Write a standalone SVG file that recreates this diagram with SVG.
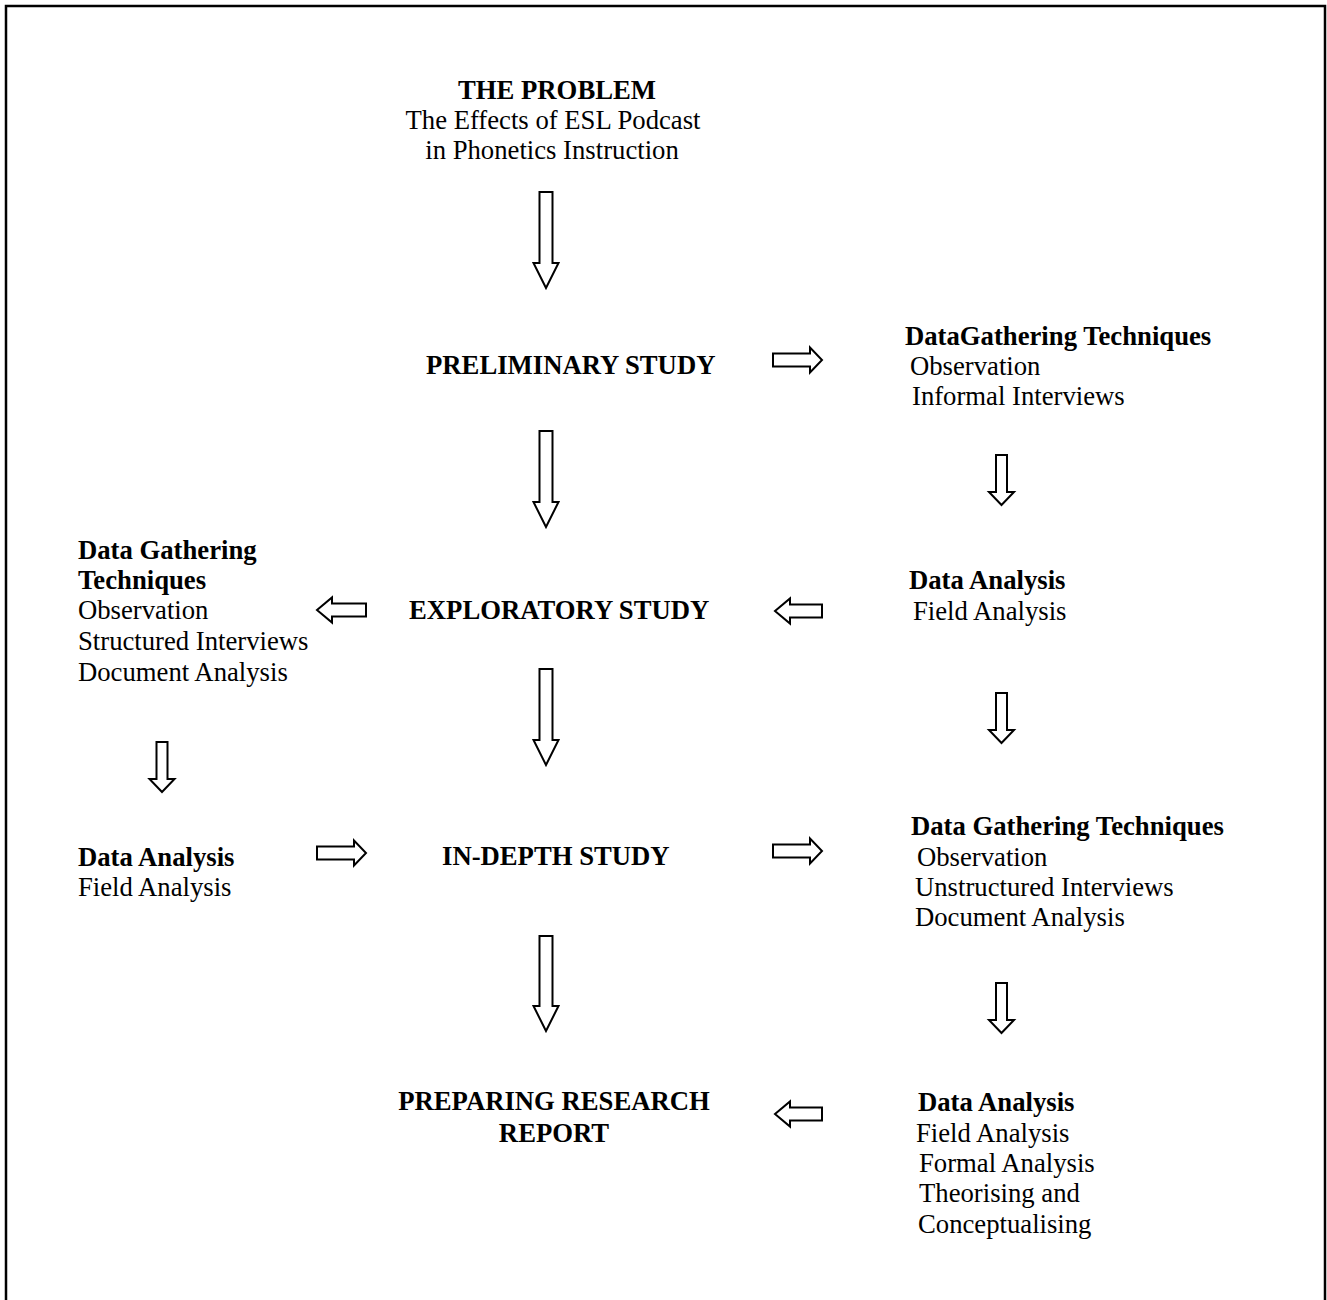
<svg xmlns="http://www.w3.org/2000/svg" width="1327" height="1300" viewBox="0 0 1327 1300">
<style>
text{font-family:"Liberation Serif","Times New Roman",serif;font-size:26.7px;fill:#000}
.b{font-weight:bold}
.arr{fill:#fff;stroke:#000;stroke-width:2;stroke-linejoin:miter}
</style>
<rect width="1327" height="1300" fill="#fff"/>
<path d="M6,1300 V6 H1325 V1300" fill="none" stroke="#000" stroke-width="2.5"/>
<g id="problem">
<text class="b" x="557" y="99" text-anchor="middle">THE PROBLEM</text>
<text x="553" y="129" text-anchor="middle">The Effects of ESL Podcast</text>
<text x="552" y="159" text-anchor="middle">in Phonetics Instruction</text>
</g>
<g id="preliminary"><text class="b" x="426" y="374">PRELIMINARY STUDY</text></g>
<g id="dgt1">
<text class="b" x="905" y="345">DataGathering Techniques</text>
<text x="910" y="375">Observation</text>
<text x="912" y="405">Informal Interviews</text>
</g>
<g id="da1">
<text class="b" x="909" y="589">Data Analysis</text>
<text x="913" y="620">Field Analysis</text>
</g>
<g id="exploratory"><text class="b" x="409" y="619">EXPLORATORY STUDY</text></g>
<g id="dgt2">
<text class="b" x="78" y="559">Data Gathering</text>
<text class="b" x="78" y="589">Techniques</text>
<text x="78" y="619">Observation</text>
<text x="78" y="650">Structured Interviews</text>
<text x="78" y="681">Document Analysis</text>
</g>
<g id="da2">
<text class="b" x="78" y="866">Data Analysis</text>
<text x="78" y="896">Field Analysis</text>
</g>
<g id="indepth"><text class="b" x="442" y="865">IN-DEPTH STUDY</text></g>
<g id="dgt3">
<text class="b" x="911" y="835">Data Gathering Techniques</text>
<text x="917" y="866">Observation</text>
<text x="915" y="896">Unstructured Interviews</text>
<text x="915" y="926">Document Analysis</text>
</g>
<g id="report">
<text class="b" x="554" y="1110" text-anchor="middle">PREPARING RESEARCH</text>
<text class="b" x="554" y="1142" text-anchor="middle">REPORT</text>
</g>
<g id="da3">
<text class="b" x="918" y="1111">Data Analysis</text>
<text x="916" y="1142">Field Analysis</text>
<text x="919" y="1172">Formal Analysis</text>
<text x="919" y="1202">Theorising and</text>
<text x="918" y="1233">Conceptualising</text>
</g>
<g id="connectors" class="arr">
<polygon points="539.5,192 552.5,192 552.5,263 558.5,263 546,288 533.5,263 539.5,263"/>
<polygon points="539.5,431 552.5,431 552.5,502 558.5,502 546,527 533.5,502 539.5,502"/>
<polygon points="539.5,669 552.5,669 552.5,740 558.5,740 546,765 533.5,740 539.5,740"/>
<polygon points="539.5,936 552.5,936 552.5,1006 558.5,1006 546,1031 533.5,1006 539.5,1006"/>
<polygon points="996,455 1007,455 1007,492 1014,492 1001.5,505 989,492 996,492"/>
<polygon points="996,693 1007,693 1007,730 1014,730 1001.5,743 989,730 996,730"/>
<polygon points="996,983 1007,983 1007,1020 1014,1020 1001.5,1033 989,1020 996,1020"/>
<polygon points="156.5,742 167.5,742 167.5,779 174.5,779 162,792 149.5,779 156.5,779"/>
<polygon points="773,353.5 810,353.5 810,347.5 822,360 810,372.5 810,366.5 773,366.5"/>
<polygon points="317,846.5 354,846.5 354,840.5 366,853 354,865.5 354,859.5 317,859.5"/>
<polygon points="773,844.5 810,844.5 810,838.5 822,851 810,863.5 810,857.5 773,857.5"/>
<polygon points="822,604.5 790,604.5 790,598.5 775,611 790,623.5 790,617.5 822,617.5"/>
<polygon points="366,603.5 332,603.5 332,597.5 317,610 332,622.5 332,616.5 366,616.5"/>
<polygon points="822,1107.5 790,1107.5 790,1101.5 775,1114 790,1126.5 790,1120.5 822,1120.5"/>
</g>
</svg>
